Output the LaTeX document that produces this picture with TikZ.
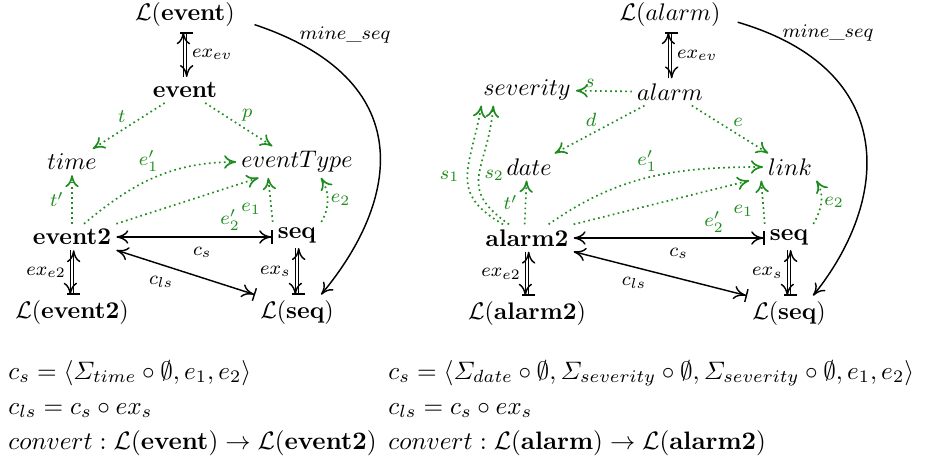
\RequirePackage{fix-cm}
\documentclass[tikz,border=0pt]{standalone}
\usepackage{amsmath,amssymb}
\usetikzlibrary{arrows.meta}

\definecolor{xygreen}{RGB}{30,140,30}

\tikzset{
  xyhead/.tip = {To[length=5pt,width=5.6pt]},
  xybar/.tip  = {Bar[width=5.5pt]},
  obj/.style  = {inner sep=2pt},
  map/.style  = {draw=black, line width=0.6pt},
  gmap/.style = {draw=xygreen, line width=0.7pt, dash pattern=on 0.7pt off 1.4pt, -{xyhead[]}},
  lab/.style  = {font=\footnotesize, inner sep=1pt},
  glab/.style = {lab, text=xygreen},
  defn/.style = {anchor=base west, inner sep=0pt, font=\fontsize{10.5pt}{13pt}\selectfont},
}

\begin{document}
\begin{tikzpicture}[x=0.4167pt, y=-0.4167pt]

  \useasboundingbox (0,0) rectangle (928,467);

  % Layout the objects, left diagram
  \node[obj] (Lev)   at (185,15)  {$\mathcal{L}\mathbf{(event)}$}; %
  \node[obj] (ev)    at (185,90)  {\textbf{event}}; %
  \node[obj] (time)  at (72,162)  {$time$}; %
  \node[obj] (etype) at (297,162) {$eventType$}; %
  \node[obj] (ev2)   at (72,237)  {\textbf{event2}}; %
  \node[obj] (seqA)  at (297,235) {\textbf{seq}}; %
  \node[obj] (Lev2)  at (72,312)  {$\mathcal{L}\mathbf{(event2)}$}; %
  \node[obj] (LseqA) at (297,312) {$\mathcal{L}\mathbf{(seq)}$}; %

  % Layout the objects, right diagram
  \node[obj] (Lal)   at (670,15)  {$\mathcal{L}(alarm)$}; %
  \node[obj] (al)    at (670,92)  {$alarm$}; %
  \node[obj] (sev)   at (527,90)  {$severity$}; %
  \node[obj] (date)  at (529,167) {$date$}; %
  \node[obj] (link)  at (790,167) {$link$}; %
  \node[obj] (al2)   at (527,238) {\textbf{alarm2}}; %
  \node[obj] (seqB)  at (789,237) {\textbf{seq}}; %
  \node[obj] (Lal2)  at (527,313) {$\mathcal{L}\mathbf{(alarm2)}$}; %
  \node[obj] (LseqB) at (789,313) {$\mathcal{L}\mathbf{(seq)}$}; %

  % Extraction maps
  \draw[map, -{xyhead[]}] ([xshift=-0.7pt]ev.north) -- ([xshift=-0.7pt]Lev.south); %
  \draw[map, {xybar[]}-{xyhead[]}] ([xshift=0.7pt]Lev.south) -- ([xshift=0.7pt]ev.north) %
    node[lab, midway, right=1pt] (lexevA) {$ex_{ev}$}; %
  \draw[map, -{xyhead[]}] ([xshift=-0.7pt]ev2.south) -- ([xshift=-0.7pt]Lev2.north); %
  \draw[map, {xybar[]}-{xyhead[]}] ([xshift=0.7pt]Lev2.north) -- ([xshift=0.7pt]ev2.south) %
    node[lab, midway, left=2pt] (lexe2A) {$ex_{e2}$}; %
  \draw[map, -{xyhead[]}] ([xshift=-0.7pt]seqA.south) -- ([xshift=-0.7pt]LseqA.north); %
  \draw[map, {xybar[]}-{xyhead[]}] ([xshift=0.7pt]LseqA.north) -- ([xshift=0.7pt]seqA.south) %
    node[lab, midway, left=2pt] (lexsA) {$ex_s$}; %

  \draw[map, -{xyhead[]}] ([xshift=-0.7pt]al.north) -- ([xshift=-0.7pt]Lal.south); %
  \draw[map, {xybar[]}-{xyhead[]}] ([xshift=0.7pt]Lal.south) -- ([xshift=0.7pt]al.north) %
    node[lab, midway, right=1pt] (lexevB) {$ex_{ev}$}; %
  \draw[map, -{xyhead[]}] ([xshift=-0.7pt]al2.south) -- ([xshift=-0.7pt]Lal2.north); %
  \draw[map, {xybar[]}-{xyhead[]}] ([xshift=0.7pt]Lal2.north) -- ([xshift=0.7pt]al2.south) %
    node[lab, midway, left=2pt] (lexe2B) {$ex_{e2}$}; %
  \draw[map, -{xyhead[]}] ([xshift=-0.7pt]seqB.south) -- ([xshift=-0.7pt]LseqB.north); %
  \draw[map, {xybar[]}-{xyhead[]}] ([xshift=0.7pt]LseqB.north) -- ([xshift=0.7pt]seqB.south) %
    node[lab, midway, left=2pt] (lexsB) {$ex_s$}; %

  % Mining
  \draw[map, -{xyhead[]}] ([xshift=6pt, yshift=-4pt]Lev.east) %
    .. controls (420,80) and (400,200) .. ([xshift=10pt]LseqA.north); %
  \node[lab] (lmineA) at (345,35) {$mine\_seq$}; %
  \draw[map, -{xyhead[]}] ([xshift=5pt, yshift=-3pt]Lal.east) %
    .. controls (900,70) and (890,200) .. ([xshift=10pt]LseqB.north); %
  \node[lab] (lmineB) at (828,33) {$mine\_seq$}; %

  % Sequence maps
  \draw[map, {xyhead[]}-{xyhead[] xybar[]}] (ev2.east) -- (ev2.east -| seqA.west) %
    node[lab, pos=0.55, below=3pt] (lcsA) {$c_s$}; %
  \draw[map, {xyhead[]}-{xyhead[] xybar[]}] (ev2.south east) -- (LseqA.north west) %
    node[lab, pos=0.45, below left=1pt] (lclsA) {$c_{ls}$}; %
  \draw[map, {xyhead[]}-{xyhead[] xybar[]}] (al2.east) -- (al2.east -| seqB.west) %
    node[lab, pos=0.55, below=3pt] (lcsB) {$c_s$}; %
  \draw[map, {xyhead[]}-{xyhead[] xybar[]}] (al2.south east) -- (LseqB.north west) %
    node[lab, pos=0.45, below left=1pt] (lclsB) {$c_{ls}$}; %

  % Projections, left diagram
  \draw[gmap] (ev) -- node[glab, above left] (ltA) {$t$} (time); %
  \draw[gmap] (ev) -- node[glab, above right] (lpA) {$p$} (etype); %
  \draw[gmap] (ev2) -- node[glab, left=2pt] (ltpA) {$t'$} (time); %
  \draw[gmap] ([xshift=5pt]ev2.north) to[out=40, in=180] %
    node[glab, pos=0.55, above left] (le1pA) {$e_1'$} (etype.west); %
  \draw[gmap] (ev2.north east) -- %
    node[glab, pos=0.8, below=8pt] (le2pA) {$e_2'$} ([xshift=-16pt]etype.south); %
  \draw[gmap] (seqA.north west) -- %
    node[glab, pos=0.3, left=3pt] (le1A) {$e_1$} ([xshift=-12pt]etype.south); %
  \draw[gmap] (seqA.north east) to[out=60, in=-60] %
    node[glab, right] (le2A) {$e_2$} ([xshift=10pt]etype.south); %

  % Projections, right diagram
  \draw[gmap] (al) -- node[glab, pos=0.75, above] (lsB) {$s$} (sev); %
  \draw[gmap] (al) -- node[glab, above left] (ldB) {$d$} (date); %
  \draw[gmap] (al) -- node[glab, above right] (leB) {$e$} (link); %
  \draw[gmap] ([xshift=-1pt]al2.north) -- node[glab, left=2pt] (ltpB) {$t'$} ([xshift=-1pt]date.south); %
  \draw[gmap] ([xshift=-10pt]al2.north) to[out=150, in=-100, looseness=1.35] %
    node[glab, pos=0.5, left=2pt] (ls1B) {$s_1$} ([xshift=-19pt]sev.south); %
  \draw[gmap] ([xshift=-7.5pt]al2.north) to[out=145, in=-95, looseness=1.4] %
    node[glab, pos=0.5, right=1pt] (ls2B) {$s_2$} ([xshift=-14pt]sev.south); %
  \draw[gmap] ([xshift=9pt]al2.north) to[out=35, in=180] %
    node[glab, pos=0.55, above left] (le1pB) {$e_1'$} (link.west); %
  \draw[gmap] (al2.north east) -- %
    node[glab, pos=0.8, below=8pt] (le2pB) {$e_2'$} ([xshift=-17pt]link.south); %
  \draw[gmap] (seqB.north west) -- %
    node[glab, pos=0.3, left=3pt] (le1B) {$e_1$} ([xshift=-12pt]link.south); %
  \draw[gmap] (seqB.north east) to[out=60, in=-60] %
    node[glab, right] (le2B) {$e_2$} ([xshift=11pt]link.south); %

  % Definitions
  \node[defn] (csA) at (8,379) %
    {$c_s = \langle \varSigma_{time} \circ \emptyset, e_1, e_2 \rangle$}; %
  \node[defn] (clsA) at (8,414) {$c_{ls} = c_s \circ ex_s$}; %
  \node[defn] (convA) at (8,449) %
    {$convert : \mathcal{L}\mathbf{(event)} \rightarrow \mathcal{L}\mathbf{(event2)}$}; %
  \node[defn] (csB) at (388,379) %
    {$c_s = \langle \varSigma_{date} \circ \emptyset, \varSigma_{severity} \circ \emptyset, %
      \varSigma_{severity} \circ \emptyset, e_1, e_2 \rangle$}; %
  \node[defn] (clsB) at (388,414) {$c_{ls} = c_s \circ ex_s$}; %
  \node[defn] (convB) at (388,449) %
    {$convert : \mathcal{L}\mathbf{(alarm)} \rightarrow \mathcal{L}\mathbf{(alarm2)}$}; %

\end{tikzpicture}
\end{document}
